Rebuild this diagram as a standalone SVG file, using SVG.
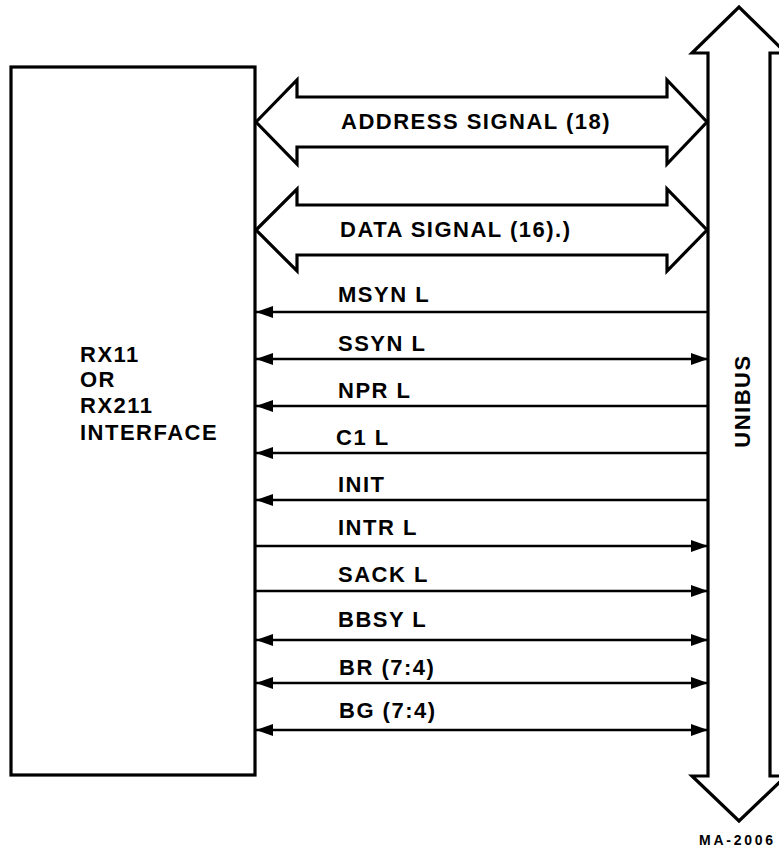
<svg xmlns="http://www.w3.org/2000/svg" width="779" height="852" viewBox="0 0 779 852">
  <style>
    .outline { fill: #fff; stroke: #000; stroke-width: 3.2; stroke-linejoin: miter; }
    .sig { stroke: #000; stroke-width: 2.3; fill: none; }
    text { font-family: "Liberation Sans", Arial, sans-serif; font-weight: bold; font-size: 22px; letter-spacing: 1.5px; fill: #000; }
    .small { font-size: 14px; letter-spacing: 0; }
  </style>
  <defs>
    <marker id="arrow" viewBox="0 -6 17 12" refX="17" refY="0" markerWidth="17" markerHeight="12" markerUnits="userSpaceOnUse" orient="auto-start-reverse">
      <path d="M0,-6 L17,0 L0,6 Z" fill="#000"/>
    </marker>
  </defs>
  <rect width="779" height="852" fill="#fff"/>

  <g id="interface">
    <rect class="outline" x="11" y="67" width="244" height="708"/>
    <text x="80" y="362">RX11</text>
    <text x="80" y="387">OR</text>
    <text x="80" y="413">RX211</text>
    <text x="80" y="440">INTERFACE</text>
  </g>

  <g id="unibus">
    <path class="outline" d="M708,53 L692,53 L739,7 L786,53 L770,53 L770,776 L786,776 L739,821 L692,776 L708,776 Z"/>
    <text transform="translate(750,401) rotate(-90)" text-anchor="middle">UNIBUS</text>
  </g>

  <g id="connectors">
    <g id="address-bus">
      <path class="outline" d="M256,122 L297,80 L297,97 L667,97 L667,80 L707,122 L667,164 L667,147 L297,147 L297,164 Z"/>
      <text x="341" y="129">ADDRESS SIGNAL (18)</text>
    </g>
    <g id="data-bus">
      <path class="outline" d="M256,230 L297,189 L297,205 L667,205 L667,189 L707,230 L667,271 L667,255 L297,255 L297,271 Z"/>
      <text x="340" y="237">DATA SIGNAL (16).)</text>
    </g>

    <g id="msyn">
      <line class="sig" x1="708" y1="312" x2="256" y2="312" marker-end="url(#arrow)"/>
      <text x="338" y="302">MSYN L</text>
    </g>
    <g id="ssyn">
      <line class="sig" x1="256" y1="359" x2="708" y2="359" marker-start="url(#arrow)" marker-end="url(#arrow)"/>
      <text x="338" y="351">SSYN L</text>
    </g>
    <g id="npr">
      <line class="sig" x1="708" y1="406" x2="256" y2="406" marker-end="url(#arrow)"/>
      <text x="338" y="398">NPR L</text>
    </g>
    <g id="c1">
      <line class="sig" x1="708" y1="453" x2="256" y2="453" marker-end="url(#arrow)"/>
      <text x="336" y="445">C1 L</text>
    </g>
    <g id="init">
      <line class="sig" x1="708" y1="500" x2="256" y2="500" marker-end="url(#arrow)"/>
      <text x="338" y="492">INIT</text>
    </g>
    <g id="intr">
      <line class="sig" x1="256" y1="546" x2="708" y2="546" marker-end="url(#arrow)"/>
      <text x="338" y="535">INTR L</text>
    </g>
    <g id="sack">
      <line class="sig" x1="256" y1="591" x2="708" y2="591" marker-end="url(#arrow)"/>
      <text x="338" y="582">SACK L</text>
    </g>
    <g id="bbsy">
      <line class="sig" x1="256" y1="640" x2="708" y2="640" marker-start="url(#arrow)" marker-end="url(#arrow)"/>
      <text x="338" y="627">BBSY L</text>
    </g>
    <g id="br">
      <line class="sig" x1="256" y1="683" x2="708" y2="683" marker-start="url(#arrow)" marker-end="url(#arrow)"/>
      <text x="339" y="675">BR (7:4)</text>
    </g>
    <g id="bg">
      <line class="sig" x1="256" y1="730" x2="708" y2="730" marker-start="url(#arrow)" marker-end="url(#arrow)"/>
      <text x="339" y="718">BG (7:4)</text>
    </g>
  </g>

  <text class="small" x="699" y="845" textLength="74" lengthAdjust="spacing">MA-2006</text>
</svg>
